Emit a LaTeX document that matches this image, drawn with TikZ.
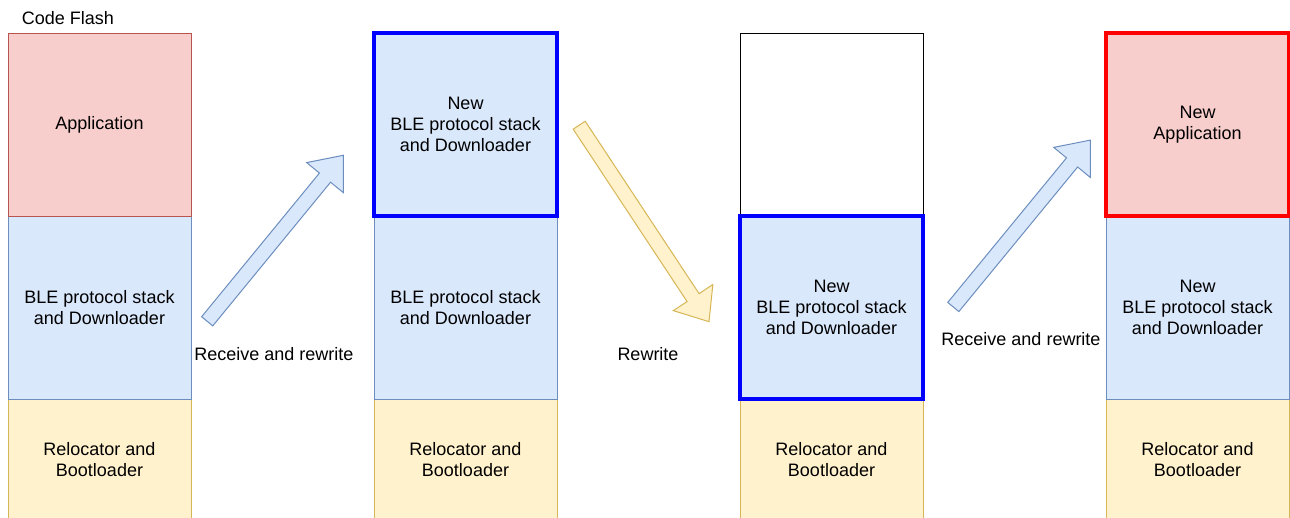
\documentclass[tikz,border=0pt]{standalone}
\usepackage{fontspec}
\setmainfont{Liberation Sans}
\definecolor{redfill}{HTML}{F8CECC}
\definecolor{redline}{HTML}{B85450}
\definecolor{bluefill}{HTML}{DAE8FC}
\definecolor{blueline}{HTML}{6C8EBF}
\definecolor{yelfill}{HTML}{FFF2CC}
\definecolor{yelline}{HTML}{D6B656}
\definecolor{strongblue}{HTML}{0000FF}
\definecolor{strongred}{HTML}{FF0000}
\tikzset{
  mem/.style={draw, minimum width=183pt, minimum height=183pt, anchor=north west,
    align=center, inner sep=0pt, outer sep=0pt, line width=1pt, font=\fontsize{18}{21}\selectfont},
  appbox/.style={mem, fill=redfill, draw=redline},
  blebox/.style={mem, fill=bluefill, draw=blueline},
  bootbox/.style={mem, fill=yelfill, draw=yelline, minimum height=122pt},
  emptybox/.style={mem, fill=white, draw=black},
  strongb/.style={draw=strongblue, line width=4pt},
  strongr/.style={draw=strongred, line width=4pt},
  lbl/.style={font=\fontsize{18}{21}\selectfont, inner sep=0pt},
  barrow/.style={line width=1pt, line join=miter},
}
\newcommand{\blockarrow}[5]{%
  % #1 tail x, #2 tail y (pixel), #3 angle, #4 length, #5 style
  \begin{scope}[shift={(#1,#2)}, rotate=#3]
    \draw[barrow,#5] (0,-7.2) -- ({#4-28.9},-7.2) -- ({#4-28.9},-23.7) -- (#4,0)
      -- ({#4-28.9},23.7) -- ({#4-28.9},7.2) -- (0,7.2) -- cycle;
  \end{scope}}
\begin{document}
\begin{tikzpicture}[x=1pt, y=-1pt]
\useasboundingbox (0,0) rectangle (1290,517);
% column 1
\node[bootbox] (c1boot) at (8,399) {Relocator and\\Bootloader};
\node[blebox] (c1ble) at (8,216) {BLE protocol stack\\and Downloader};
\node[appbox] (c1app) at (8,33) {Application};
% column 2
\node[bootbox] (c2boot) at (374,399) {Relocator and\\Bootloader};
\node[blebox] (c2ble) at (374,216) {BLE protocol stack\\and Downloader};
\node[blebox, strongb] (c2new) at (374,33) {New\\BLE protocol stack\\and Downloader};
% column 3
\node[bootbox] (c3boot) at (740,399) {Relocator and\\Bootloader};
\node[emptybox] (c3top) at (740,33) {};
\node[blebox, strongb] (c3new) at (740,216) {New\\BLE protocol stack\\and Downloader};
% column 4
\node[bootbox] (c4boot) at (1106,399) {Relocator and\\Bootloader};
\node[blebox] (c4ble) at (1106,216) {New\\BLE protocol stack\\and Downloader};
\node[appbox, strongr] (c4app) at (1106,33) {New\\Application};
% arrows
\blockarrow{207.2}{321.3}{50.65}{214.7}{fill=bluefill, draw=blueline}
\blockarrow{579.2}{125.2}{-56.55}{235.5}{fill=yelfill, draw=yelline}
\blockarrow{953.3}{307}{50.6}{216}{fill=bluefill, draw=blueline}
% labels
\node[lbl] (codeflash) at (68,18) {Code Flash};
\node[lbl] (l1) at (274,354) {Receive and rewrite};
\node[lbl] (l2) at (648,354) {Rewrite};
\node[lbl] (l3) at (1021,339) {Receive and rewrite};
\end{tikzpicture}
\end{document}
